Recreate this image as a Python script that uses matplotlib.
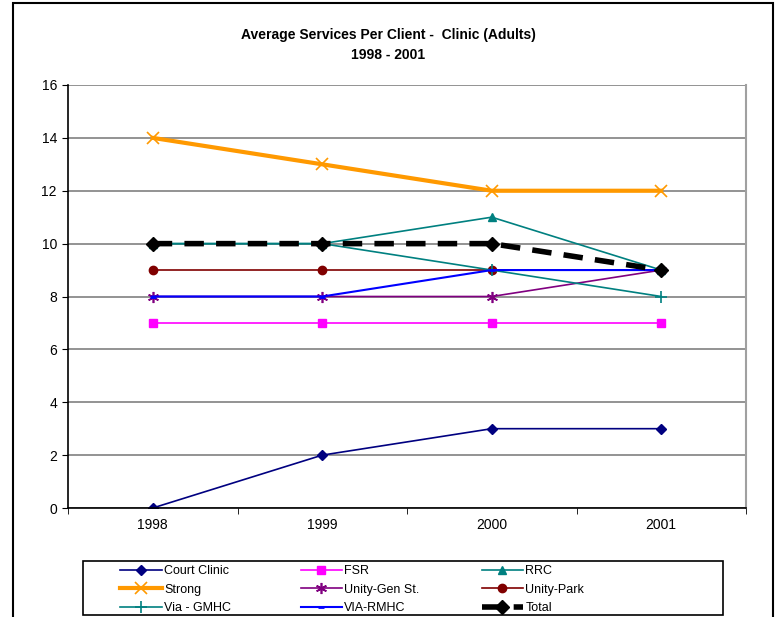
import numpy as np
import matplotlib.pyplot as plt
from matplotlib.patches import Rectangle

plt.rcParams['font.family'] = ['Liberation Sans', 'DejaVu Sans']

## data
years = ['1998', '1999', '2000', '2001']
court_clinic = [0, 2, 3, 3]
fsr          = [7, 7, 7, 7]
rrc          = [10, 10, 11, 9]
strong       = [14, 13, 12, 12]
unity_gen    = [8, 8, 8, 9]
unity_park   = [9, 9, 9, 9]
via_gmhc     = [10, 10, 9, 8]
via_rmhc     = [8, 8, 9, 9]
total        = [10, 10, 10, 9]

W, H = 776, 617
fig = plt.figure(figsize=(W/100, H/100), dpi=100)

# outer chart frame
fig.patches.append(Rectangle((13/W, -0.02), (773-13)/W, (H-3)/H + 0.02,
                             transform=fig.transFigure, fill=False,
                             edgecolor='black', linewidth=1.5))
# legend frame
fig.patches.append(Rectangle((83/W, 1-615/H), (723-83)/W, (615-561)/H,
                             transform=fig.transFigure, fill=False,
                             edgecolor='black', linewidth=1.2))

# plot area
ax = fig.add_axes([68/W, 1-508/H, (746-68)/W, (508-85)/H])
x = np.arange(len(years))

ax.plot(x, court_clinic, color='#000080', marker='D', ms=5, lw=1.2, label='Court Clinic')
ax.plot(x, fsr, color='#FF00FF', marker='s', ms=6, lw=1.2, label='FSR')
ax.plot(x, rrc, color='#008080', marker='^', ms=6, lw=1.2, label='RRC')
ax.plot(x, strong, color='#FF9900', marker='x', ms=9, mew=1.2, lw=3, label='Strong')
ax.plot(x, unity_gen, color='#800080', marker=(6, 2, 0), ms=8, mew=1.2, lw=1.2, label='Unity-Gen St.')
ax.plot(x, unity_park, color='#800000', marker='o', ms=6, lw=1.2, label='Unity-Park')
ax.plot(x, via_gmhc, color='#008080', marker='+', ms=8, mew=1.2, lw=1.2, label='Via - GMHC')
ax.plot(x, via_rmhc, color='#0000FF', marker='_', ms=5, mew=2, lw=1.5, label='VIA-RMHC')
ax.plot(x, total, color='black', marker='D', ms=7, lw=4, dashes=(3.5, 2.2), label='Total')

ax.set_xlim(-0.5, 3.5)
ax.set_ylim(0, 16)
ax.set_yticks(range(0, 17, 2))
ax.set_xticks(x)
ax.set_xticklabels(years)
ax.set_xticks(np.arange(-0.5, 3.6, 1), minor=True)
ax.tick_params(axis='x', which='major', length=0, pad=7, labelsize=10)
ax.tick_params(axis='x', which='minor', length=4, direction='out', color='black')
ax.tick_params(axis='y', length=4, direction='out', labelsize=10, pad=4)
ax.yaxis.grid(True, color='#808080', lw=1.2)
ax.set_axisbelow(True)
ax.spines['top'].set_visible(False)
ax.spines['right'].set_color('#A0A0A0')
ax.spines['right'].set_linewidth(1.5)
ax.spines['left'].set_linewidth(1.2)
ax.spines['bottom'].set_linewidth(1.2)

fig.text(0.5, 1-35/H, 'Average Services Per Client -  Clinic (Adults)', ha='center',
         va='center', fontsize=10, fontweight='bold')
fig.text(0.5, 1-55/H, '1998 - 2001', ha='center', va='center', fontsize=10, fontweight='bold')

# legend: three columns, filled row by row like the original
h, l = ax.get_legend_handles_labels()
col_x = [118, 298, 479]
for c in range(3):
    idx = [c, c + 3, c + 6]
    fig.legend([h[i] for i in idx], [l[i] for i in idx],
               loc='upper left', bbox_to_anchor=(col_x[c]/W, 1-563/H),
               fontsize=9, frameon=False, handlelength=3.3, handletextpad=0.2,
               borderaxespad=0, labelspacing=0.5, borderpad=0.2)

fig.savefig('out.png', dpi=100)
